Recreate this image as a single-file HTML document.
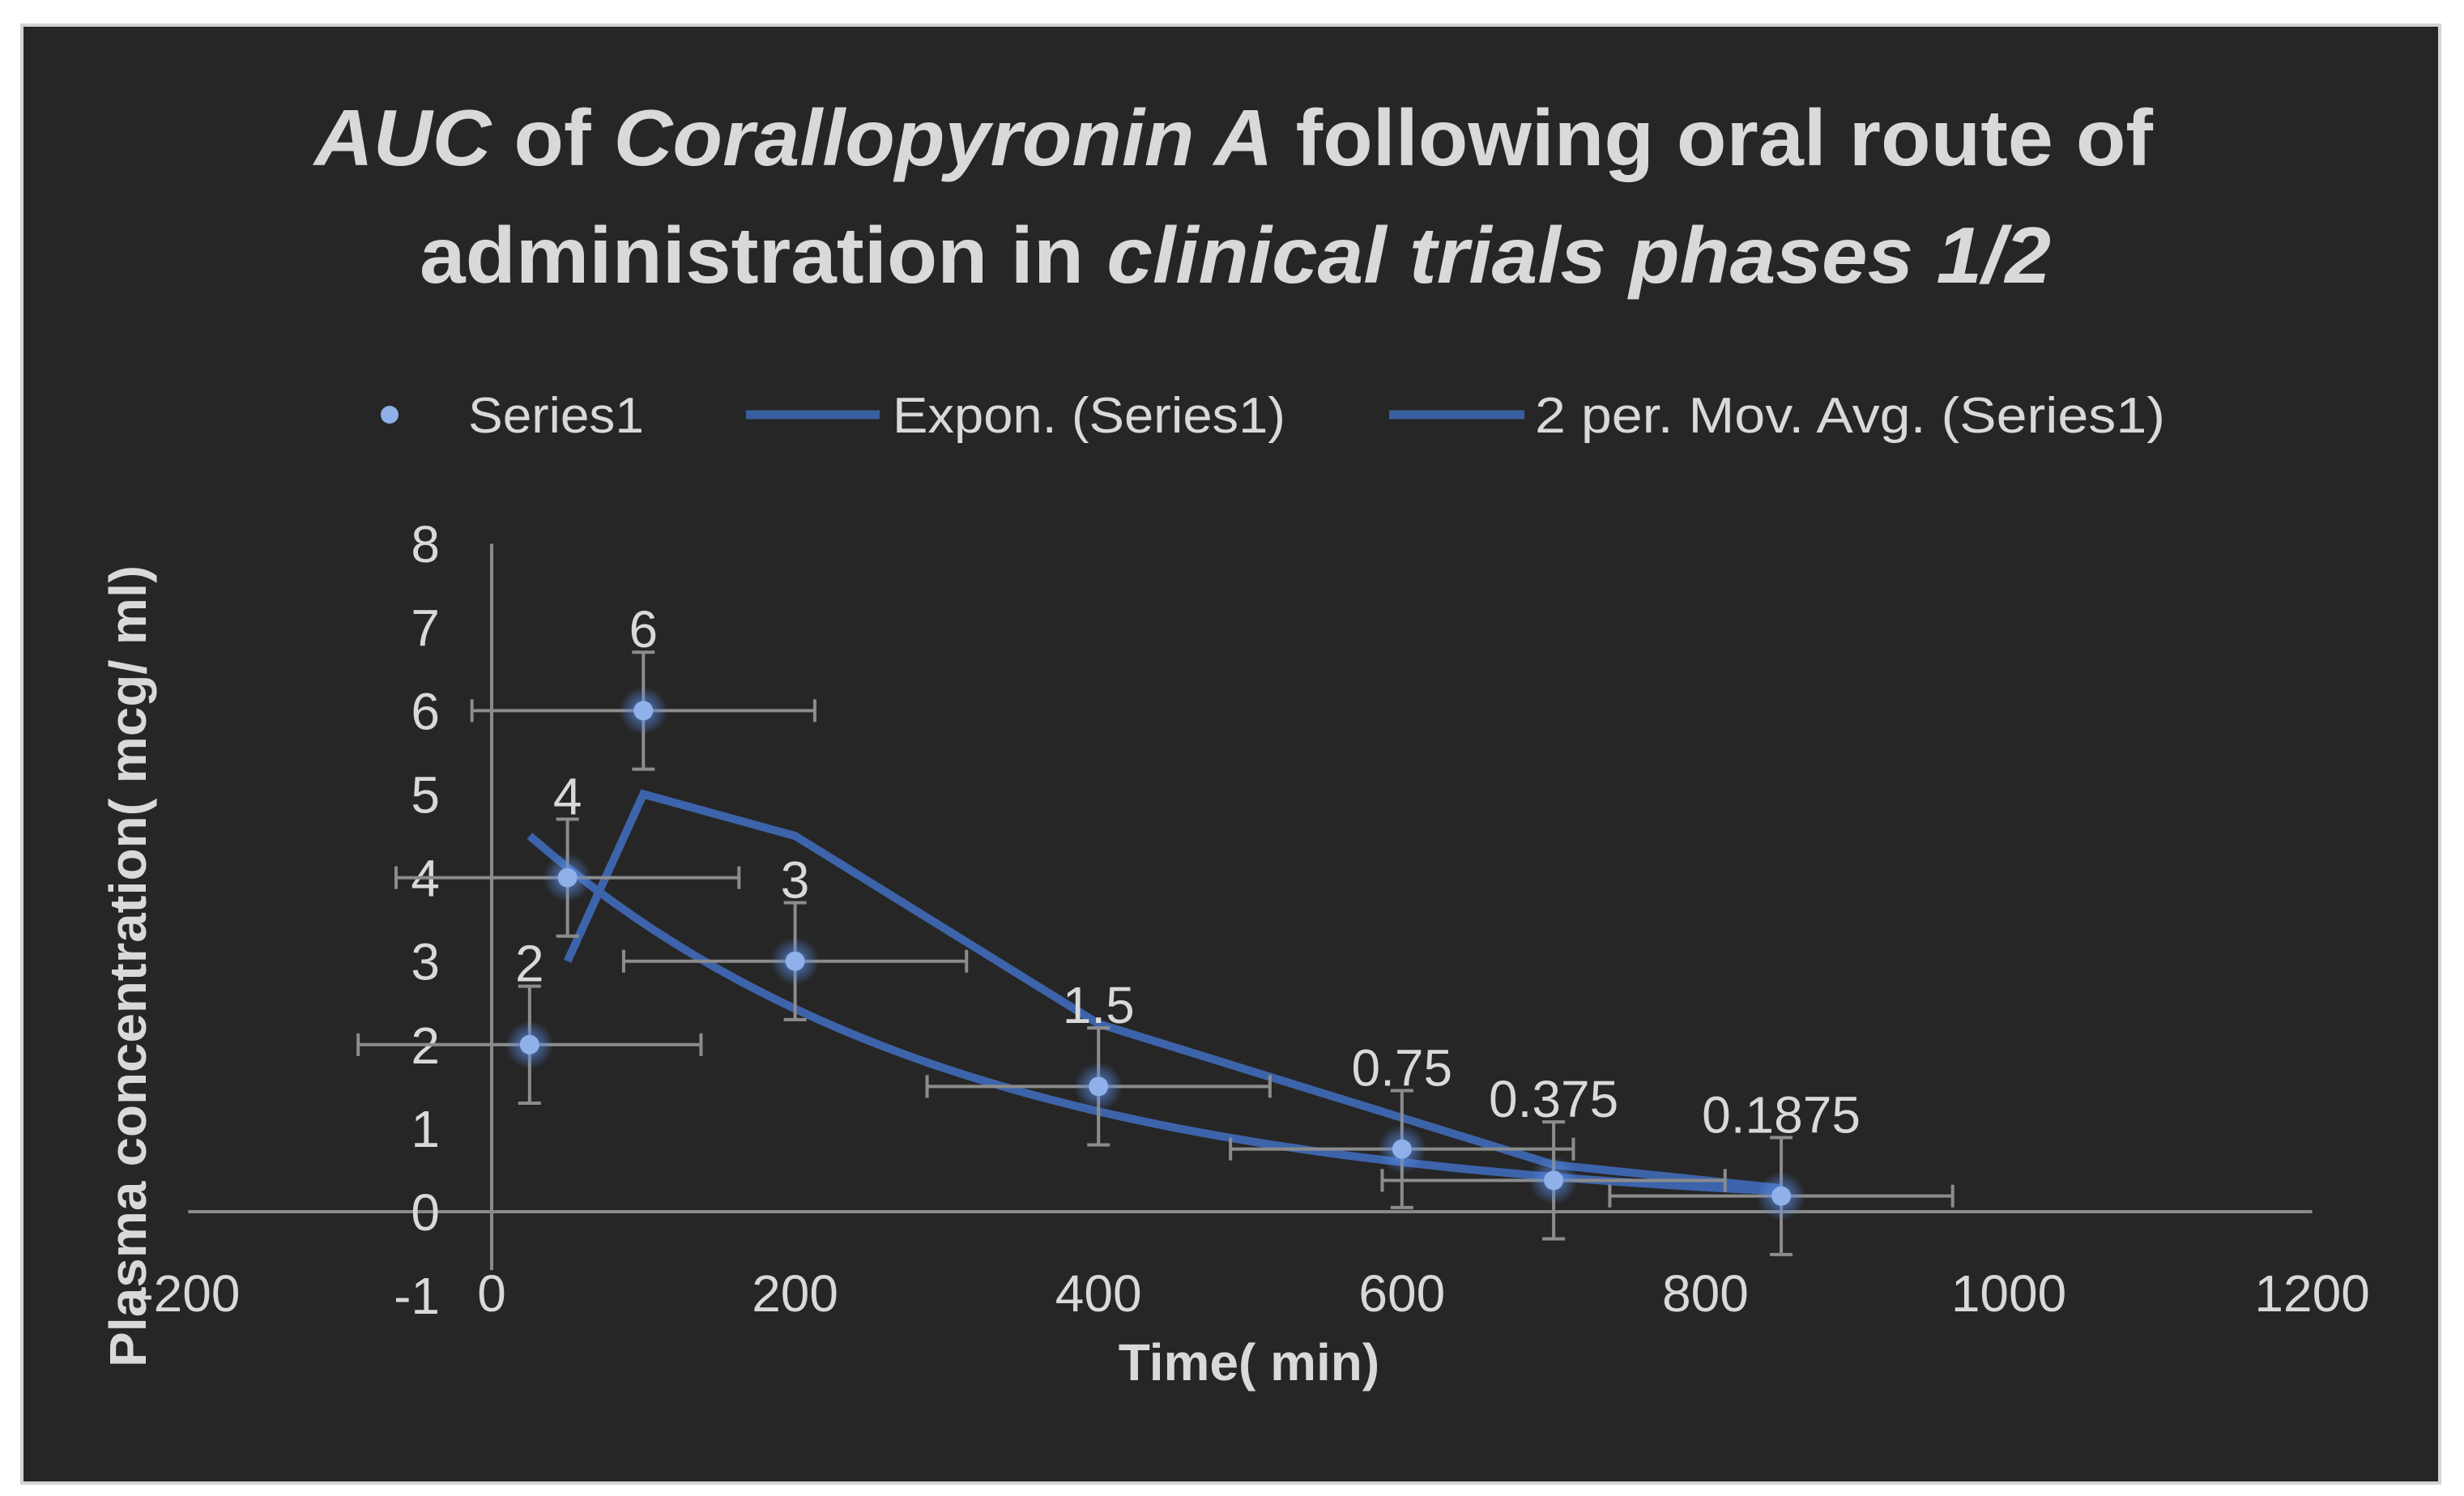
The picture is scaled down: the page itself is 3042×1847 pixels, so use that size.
<!DOCTYPE html>
<html><head><meta charset="utf-8"><style>
html,body{margin:0;padding:0;background:#fff;}
svg{display:block;font-family:"Liberation Sans",sans-serif;}
</style></head><body>
<svg id="chart" width="3042" height="1847" viewBox="0 0 3042 1847">
<defs>
<radialGradient id="glow"><stop offset="0" stop-color="#5b8ee8" stop-opacity="0.9"/><stop offset="1" stop-color="#5b8ee8" stop-opacity="0"/></radialGradient>
</defs>
<rect x="0" y="0" width="3042" height="1847" fill="#ffffff"/>
<rect x="27" y="31" width="2985" height="1800" fill="#262626" stroke="#d4d4d4" stroke-width="4"/>
<g fill="#d9d9d9" font-weight="bold" font-size="98">
<text x="388" y="204" textLength="2270" lengthAdjust="spacingAndGlyphs"><tspan font-style="italic">AUC</tspan> of <tspan font-style="italic">Corallopyronin A</tspan> following oral route of</text>
<text x="518" y="349" textLength="2014" lengthAdjust="spacingAndGlyphs">administration in <tspan font-style="italic">clinical trials phases 1/2</tspan></text>
</g>
<g fill="#d9d9d9" font-size="62">
<g><circle cx="481" cy="512" r="11" fill="#8fb0e8"/><text x="578" y="534" textLength="217" lengthAdjust="spacingAndGlyphs">Series1</text></g>
<g><line x1="921" y1="512" x2="1086" y2="512" stroke="#3a5f9e" stroke-width="11"/><text x="1102" y="534" textLength="485" lengthAdjust="spacingAndGlyphs">Expon. (Series1)</text></g>
<g><line x1="1715" y1="512" x2="1882" y2="512" stroke="#3a5f9e" stroke-width="11"/><text x="1895" y="534" textLength="778" lengthAdjust="spacingAndGlyphs">2 per. Mov. Avg. (Series1)</text></g>
</g>
<g id="plot"></g>
<text x="180" y="1193" transform="rotate(-90 180 1193)" text-anchor="middle" fill="#d9d9d9" font-weight="bold" font-size="64" textLength="990" lengthAdjust="spacingAndGlyphs">Plasma concentration( mcg/ ml)</text>
<text x="1542" y="1704" text-anchor="middle" fill="#d9d9d9" font-weight="bold" font-size="64">Time( min)</text>
</svg>
<script>
const xValues = [25, 50, 100, 200, 400, 600, 700, 850];
const yValues = [2, 4, 6, 3, 1.5, 0.75, 0.375, 0.1875];
const pointLabels = ["2", "4", "6", "3", "1.5", "0.75", "0.375", "0.1875"];
const xErr = [113, 113, 113, 113, 113, 113, 113, 113];
const yErr = [0.7, 0.7, 0.7, 0.7, 0.7, 0.7, 0.7, 0.7];
const xTicks = [-200, 0, 200, 400, 600, 800, 1000, 1200];
const yTicks = [-1, 0, 1, 2, 3, 4, 5, 6, 7, 8];

const NS = "http://www.w3.org/2000/svg";
const plot = document.getElementById("plot");
const X0 = 607, XU = 1.873, Y0 = 1496, YU = 103.1;
const sx = v => X0 + v * XU;
const sy = v => Y0 - v * YU;
function mk(tag, attrs, parent) {
  const e = document.createElementNS(NS, tag);
  for (const k in attrs) e.setAttribute(k, attrs[k]);
  (parent || plot).appendChild(e);
  return e;
}
let a = mk("line", {x1: sx(0), y1: sy(8), x2: sx(0), y2: sy(-0.7), stroke: "#8a8a8a", "stroke-width": 4});


a = mk("line", {x1: sx(-200), y1: sy(0), x2: sx(1200), y2: sy(0), stroke: "#8a8a8a", "stroke-width": 4});


yTicks.forEach(t => {
  const e = mk("text", {x: 543, y: sy(t) + 23, "text-anchor": "end", fill: "#d9d9d9", "font-size": 64});
  e.textContent = t;
  
  
});
xTicks.forEach(t => {
  const e = mk("text", {x: sx(t), y: 1619, "text-anchor": "middle", fill: "#d9d9d9", "font-size": 64});
  e.textContent = t;
  
  
});
const n = xValues.length;
const lx = xValues, ly = yValues.map(Math.log);
const mx = lx.reduce((s, v) => s + v, 0) / n, my = ly.reduce((s, v) => s + v, 0) / n;
let num = 0, den = 0;
for (let i = 0; i < n; i++) { num += (lx[i] - mx) * (ly[i] - my); den += (lx[i] - mx) ** 2; }
const b = num / den, lnA = my - b * mx;
let d = "";
for (let i = 0; i <= 60; i++) {
  const xv = xValues[0] + (xValues[n - 1] - xValues[0]) * i / 60;
  d += (i ? "L" : "M") + sx(xv).toFixed(1) + " " + sy(Math.exp(lnA + b * xv)).toFixed(1);
}
let p = mk("path", {d: d, fill: "none", stroke: "#3d64ab", "stroke-width": 10, "stroke-linejoin": "round"});


let md = "";
for (let i = 1; i < n; i++) {
  const v = (yValues[i] + yValues[i - 1]) / 2;
  md += (i > 1 ? "L" : "M") + sx(xValues[i]).toFixed(1) + " " + sy(v).toFixed(1);
}
p = mk("path", {d: md, fill: "none", stroke: "#3d64ab", "stroke-width": 10, "stroke-linejoin": "miter"});


for (let i = 0; i < n; i++) {
  const cx = sx(xValues[i]), cy = sy(yValues[i]);
  const g = mk("g", {stroke: "#8c8c8c", "stroke-width": 4});
  
  
  const x1 = sx(xValues[i] - xErr[i]), x2 = sx(xValues[i] + xErr[i]);
  const y1 = sy(yValues[i] + yErr[i]), y2 = sy(yValues[i] - yErr[i]);
  mk("line", {x1: x1, y1: cy, x2: x2, y2: cy}, g);
  mk("line", {x1: x1, y1: cy - 14, x2: x1, y2: cy + 14}, g);
  mk("line", {x1: x2, y1: cy - 14, x2: x2, y2: cy + 14}, g);
  mk("line", {x1: cx, y1: y1, x2: cx, y2: y2}, g);
  mk("line", {x1: cx - 14, y1: y1, x2: cx + 14, y2: y1}, g);
  mk("line", {x1: cx - 14, y1: y2, x2: cx + 14, y2: y2}, g);
}
for (let i = 0; i < n; i++) {
  const cx = sx(xValues[i]), cy = sy(yValues[i]);
  mk("circle", {cx: cx, cy: cy, r: 30, fill: "url(#glow)"});
  const c = mk("circle", {cx: cx, cy: cy, r: 12, fill: "#8fb0e8"});
  
  
  const t = mk("text", {x: cx, y: sy(yValues[i] + 0.7) - 6, "text-anchor": "middle", fill: "#d9d9d9", "font-size": 64});
  t.textContent = pointLabels[i];
  
  
}
</script>
</body></html>
